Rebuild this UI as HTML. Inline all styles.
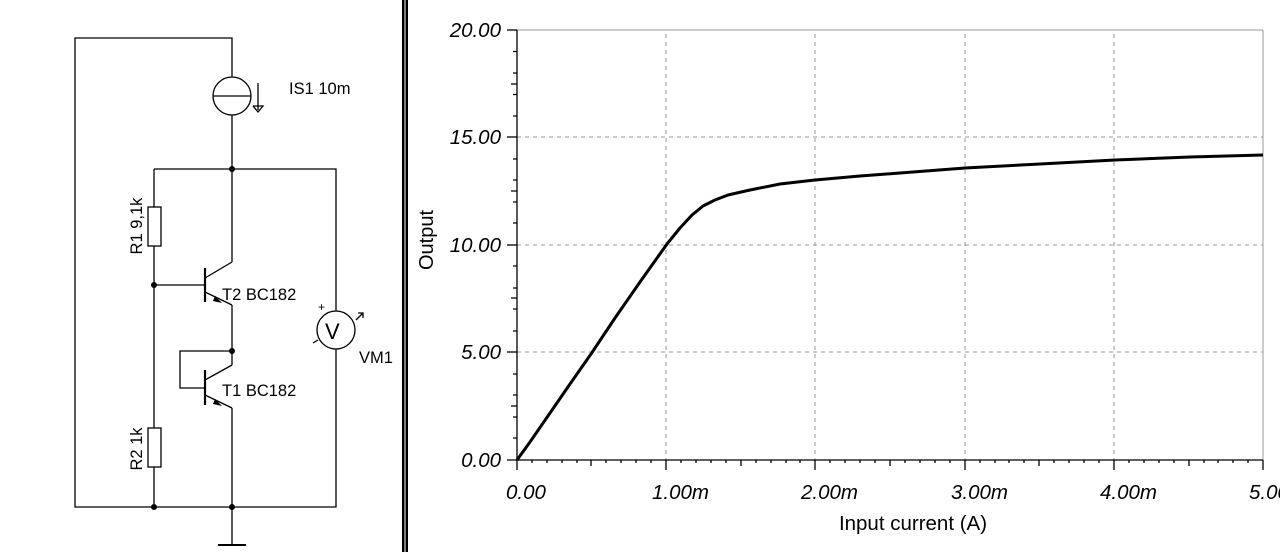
<!DOCTYPE html>
<html><head><meta charset="utf-8"><style>
html,body{margin:0;padding:0;background:#fff;width:1280px;height:552px;overflow:hidden}
svg{display:block}
text{font-family:"Liberation Sans",Arial,sans-serif;fill:#000}
</style></head><body>
<svg width="1280" height="552" viewBox="0 0 1280 552" xmlns="http://www.w3.org/2000/svg">
<g stroke="#000" stroke-width="1.3" fill="none">
<polyline points="232,77 232,38 75,38 75,507 336,507 336,349"/>
<circle cx="232" cy="96" r="19"/>
<line x1="213" y1="96" x2="251" y2="96"/>
<line x1="232" y1="115" x2="232" y2="262"/>
<line x1="258" y1="83" x2="258" y2="110"/>
<polyline points="253,106 258,112 263,106 253,106"/>
<polyline points="154,169 336,169 336,311"/>
<line x1="154" y1="169" x2="154" y2="207"/>
<rect x="148" y="207" width="13" height="39"/>
<line x1="154" y1="246" x2="154" y2="428"/>
<rect x="148" y="428" width="13" height="39"/>
<line x1="154" y1="467" x2="154" y2="507"/>
<line x1="154" y1="285" x2="205" y2="285"/>
<line x1="205" y1="268" x2="205" y2="302" stroke-width="2.2"/>
<line x1="205" y1="278" x2="232" y2="262"/>
<line x1="205" y1="292" x2="232" y2="305"/>
<line x1="232" y1="305" x2="232" y2="351"/>
<polyline points="232,351 180,351 180,388 205,388"/>
<line x1="205" y1="370" x2="205" y2="405" stroke-width="2.2"/>
<line x1="205" y1="380" x2="232" y2="365"/>
<line x1="232" y1="365" x2="232" y2="351"/>
<line x1="205" y1="395" x2="232" y2="408"/>
<line x1="232" y1="408" x2="232" y2="545"/>
<line x1="218" y1="545" x2="246" y2="545" stroke-width="2"/>
<circle cx="336" cy="330" r="19"/>
<line x1="313" y1="343" x2="318" y2="340"/>
<line x1="356" y1="320" x2="363" y2="313"/>
<polyline points="358,313 363,313 363,318"/>
</g>
<polygon points="215,296 222,303 213,301" fill="#000"/>
<polygon points="215,399 222,406 213,404" fill="#000"/>
<g fill="#000"><circle cx="232" cy="169" r="3"/><circle cx="154" cy="285" r="3"/><circle cx="232" cy="351" r="3"/><circle cx="154" cy="507" r="3"/><circle cx="232" cy="507" r="3"/></g>
<text x="325" y="339" font-size="22">V</text>
<text x="318" y="311" font-size="12">+</text>
<text x="289" y="94" font-size="16.5">IS1 10m</text>
<text x="222" y="300" font-size="16.5">T2 BC182</text>
<text x="222" y="396" font-size="16.5">T1 BC182</text>
<text x="359" y="363" font-size="16.5">VM1</text>
<text transform="translate(142,226) rotate(-90)" font-size="16.5" text-anchor="middle">R1 9,1k</text>
<text transform="translate(142,449) rotate(-90)" font-size="16.5" text-anchor="middle">R2 1k</text>
<rect x="402" y="0" width="2.5" height="552" fill="#000"/>
<rect x="405.5" y="0" width="2.5" height="552" fill="#000"/>
<g stroke="#999" stroke-width="1" stroke-dasharray="4,4">
<line x1="666" y1="34" x2="666" y2="460"/><line x1="815" y1="34" x2="815" y2="460"/><line x1="965" y1="34" x2="965" y2="460"/><line x1="1114" y1="34" x2="1114" y2="460"/>
<line x1="517" y1="137" x2="1263" y2="137"/><line x1="517" y1="245" x2="1263" y2="245"/><line x1="517" y1="352" x2="1263" y2="352"/>
</g>
<line x1="517" y1="30" x2="1263" y2="30" stroke="#999"/>
<line x1="1263" y1="30" x2="1263" y2="460" stroke="#999"/>
<g stroke="#000" stroke-width="1.3">
<line x1="517" y1="30" x2="517" y2="470"/>
<line x1="507" y1="460" x2="1263" y2="460"/>
<line x1="507" y1="30" x2="517" y2="30"/><line x1="507" y1="137" x2="517" y2="137"/><line x1="507" y1="245" x2="517" y2="245"/><line x1="507" y1="352" x2="517" y2="352"/>
<line x1="666" y1="460" x2="666" y2="470"/><line x1="815" y1="460" x2="815" y2="470"/><line x1="965" y1="460" x2="965" y2="470"/><line x1="1114" y1="460" x2="1114" y2="470"/><line x1="1263" y1="460" x2="1263" y2="470"/>
</g>
<g stroke="#000" stroke-width="1.3">
<path d="M513 51.5h4M513 73h4M513 94.5h4M513 116h4M511 84h6M513 159h4M513 180h4M513 202h4M513 223h4M511 191h6M513 266h4M513 288h4M513 309h4M513 331h4M511 298h6M513 374h4M513 395h4M513 417h4M513 438h4M511 406h6"/>
<path d="M532 460v3M547 460v3M562 460v3M577 460v3M591 460v6M606 460v3M621 460v3M636 460v3M651 460v3M681 460v3M696 460v3M711 460v3M726 460v3M741 460v6M756 460v3M771 460v3M786 460v3M800 460v3M830 460v3M845 460v3M860 460v3M875 460v3M890 460v6M905 460v3M920 460v3M935 460v3M950 460v3M980 460v3M995 460v3M1009 460v3M1024 460v3M1039 460v6M1054 460v3M1069 460v3M1084 460v3M1099 460v3M1129 460v3M1144 460v3M1159 460v3M1174 460v3M1189 460v6M1204 460v3M1218 460v3M1233 460v3M1248 460v3"/>
</g>
<g font-size="20.5" font-style="italic" text-anchor="end">
<text x="501" y="37">20.00</text><text x="501" y="144">15.00</text><text x="501" y="252">10.00</text><text x="501" y="359">5.00</text><text x="501" y="467">0.00</text>
</g>
<g font-size="20.5" font-style="italic" text-anchor="start">
<text x="506" y="499">0.00</text><text x="652" y="499">1.00m</text><text x="801" y="499">2.00m</text><text x="951" y="499">3.00m</text><text x="1100" y="499">4.00m</text><text x="1249" y="499">5.00m</text>
</g>
<text x="913" y="530" font-size="20.5" text-anchor="middle">Input current (A)</text>
<text transform="translate(433,240) rotate(-90)" font-size="20" text-anchor="middle">Output</text>
<polyline fill="none" stroke="#000" stroke-width="3" stroke-linejoin="round" points="517,460 530,442 550,413 570,384 591,354 615,318 640,282 667,244 680,228 692,215 703,206 715,200 728,195 750,190 780,184 815,180 860,176 900,173 965,168 1040,164 1115,160 1190,157 1263,155"/>
</svg>
</body></html>
